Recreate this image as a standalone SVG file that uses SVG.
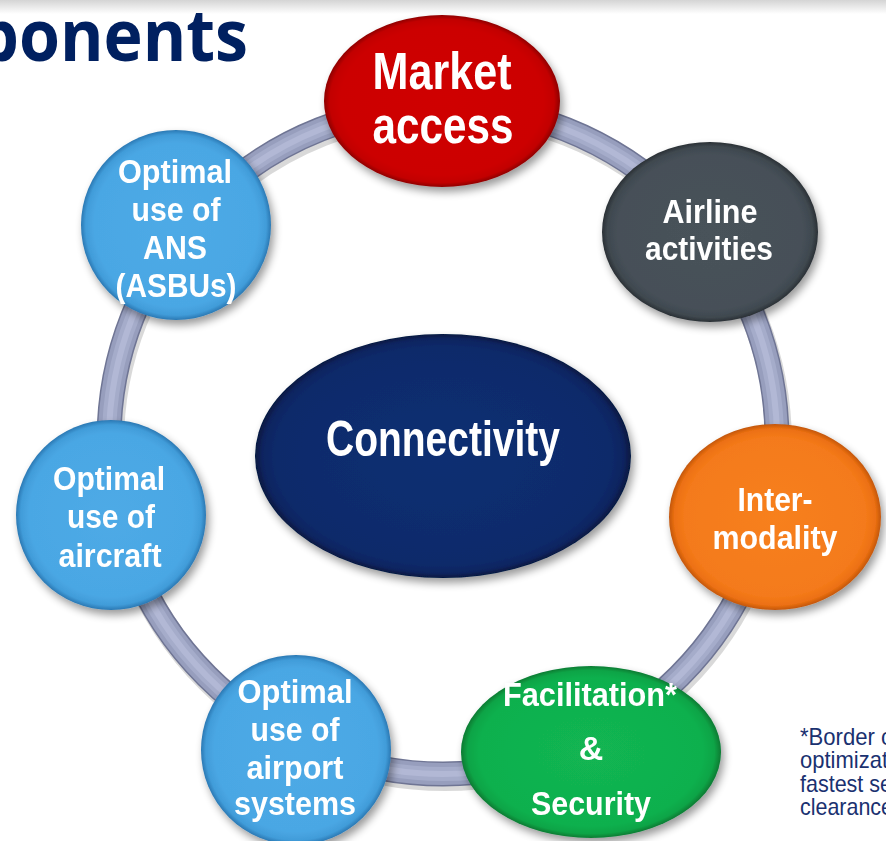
<svg xmlns="http://www.w3.org/2000/svg" width="886" height="841" viewBox="0 0 886 841">
<style>
.lbl{font-family:"Liberation Sans",Arial,sans-serif;font-weight:bold;fill:#fff;text-anchor:middle}
.s36{font-size:34px}
.s52{font-size:52px}
.note{font-family:"Liberation Sans",Arial,sans-serif;font-size:24px;fill:#1a3170}
.title{font-family:"Open Sans","Liberation Sans",sans-serif;font-weight:bold;font-size:72px;fill:#002060}
</style>
<defs>
<linearGradient id="topband" x1="0" y1="0" x2="0" y2="1">
<stop offset="0" stop-color="#d4d4d4"/><stop offset="1" stop-color="#ffffff"/>
</linearGradient>
<filter id="sh" x="-20%" y="-20%" width="150%" height="150%">
<feGaussianBlur in="SourceAlpha" stdDeviation="4"/>
<feOffset dx="3" dy="5" result="b"/>
<feComponentTransfer><feFuncA type="linear" slope="0.4"/></feComponentTransfer>
<feMerge><feMergeNode/><feMergeNode in="SourceGraphic"/></feMerge>
</filter>
<radialGradient id="gRed" cx="0.5" cy="0.5" r="0.5">
<stop offset="0" stop-color="#cf0000"/><stop offset="0.86" stop-color="#cc0000"/><stop offset="0.95" stop-color="#c20000"/><stop offset="1" stop-color="#8e0000"/>
</radialGradient>
<radialGradient id="gGrey" cx="0.5" cy="0.5" r="0.5">
<stop offset="0" stop-color="#48525a"/><stop offset="0.86" stop-color="#465058"/><stop offset="0.95" stop-color="#3f484f"/><stop offset="1" stop-color="#2a3035"/>
</radialGradient>
<radialGradient id="gOrange" cx="0.5" cy="0.5" r="0.5">
<stop offset="0" stop-color="#f7801f"/><stop offset="0.86" stop-color="#f47a1a"/><stop offset="0.95" stop-color="#ec7012"/><stop offset="1" stop-color="#c2560a"/>
</radialGradient>
<radialGradient id="gGreen" cx="0.5" cy="0.5" r="0.5">
<stop offset="0" stop-color="#12b552"/><stop offset="0.86" stop-color="#10b04e"/><stop offset="0.95" stop-color="#0ca446"/><stop offset="1" stop-color="#077a32"/>
</radialGradient>
<radialGradient id="gBlue" cx="0.5" cy="0.5" r="0.5">
<stop offset="0" stop-color="#4eaae6"/><stop offset="0.86" stop-color="#4aa7e4"/><stop offset="0.95" stop-color="#419cd9"/><stop offset="1" stop-color="#2a78b3"/>
</radialGradient>
<radialGradient id="gNavy" cx="0.5" cy="0.5" r="0.5">
<stop offset="0" stop-color="#0f2f72"/><stop offset="0.88" stop-color="#0d2b6b"/><stop offset="0.96" stop-color="#0a2460"/><stop offset="1" stop-color="#061840"/>
</radialGradient>
</defs>
<rect x="0" y="0" width="886" height="841" fill="#ffffff"/>
<rect x="0" y="0" width="886" height="14" fill="url(#topband)"/>
<text class="title" x="-23" y="61" textLength="271" lengthAdjust="spacingAndGlyphs">ponents</text>

<g id="connectors">
<circle cx="443" cy="440" r="334" fill="none" stroke="#000" stroke-opacity="0.15" stroke-width="26" transform="translate(2,4)"/>
<circle cx="443" cy="440" r="334" fill="none" stroke="#6f7594" stroke-width="25"/>
<circle cx="443" cy="440" r="334" fill="none" stroke="#979ebd" stroke-width="22"/>
<circle cx="443" cy="440" r="334" fill="none" stroke="#a5acca" stroke-width="14"/>
<circle cx="443" cy="440" r="334" fill="none" stroke="#b2b8d5" stroke-width="6"/>
</g>

<g id="connectivity" filter="url(#sh)">
<ellipse cx="443" cy="456" rx="188" ry="122" fill="url(#gNavy)"/>
<text class="lbl" x="443" y="456" style="font-size:50px" textLength="234" lengthAdjust="spacingAndGlyphs">Connectivity</text>
</g>

<g id="market-access" filter="url(#sh)">
<ellipse cx="442" cy="101" rx="118" ry="86" fill="url(#gRed)"/>
<text class="lbl s52" x="442" y="89" textLength="139" lengthAdjust="spacingAndGlyphs">Market</text>
<text class="lbl s52" x="443" y="143" textLength="141" lengthAdjust="spacingAndGlyphs">access</text>
</g>

<g id="airline-activities" filter="url(#sh)">
<ellipse cx="710" cy="232" rx="108" ry="90" fill="url(#gGrey)"/>
<text class="lbl s36" x="710" y="223" textLength="95" lengthAdjust="spacingAndGlyphs">Airline</text>
<text class="lbl s36" x="709" y="260" textLength="128" lengthAdjust="spacingAndGlyphs">activities</text>
</g>

<g id="inter-modality" filter="url(#sh)">
<ellipse cx="775" cy="517" rx="106" ry="93" fill="url(#gOrange)"/>
<text class="lbl s36" x="775" y="511" textLength="75" lengthAdjust="spacingAndGlyphs">Inter-</text>
<text class="lbl s36" x="775" y="549" textLength="125" lengthAdjust="spacingAndGlyphs">modality</text>
</g>

<g id="facilitation-security" filter="url(#sh)">
<ellipse cx="591" cy="752" rx="130" ry="86" fill="url(#gGreen)"/>
<text class="lbl s36" x="590" y="706" textLength="174" lengthAdjust="spacingAndGlyphs">Facilitation*</text>
<text class="lbl s36" x="591" y="760">&amp;</text>
<text class="lbl s36" x="591" y="815" textLength="120" lengthAdjust="spacingAndGlyphs">Security</text>
</g>

<g id="airport-systems" filter="url(#sh)">
<ellipse cx="296" cy="750" rx="95" ry="95" fill="url(#gBlue)"/>
<text class="lbl s36" x="295" y="703" textLength="115" lengthAdjust="spacingAndGlyphs">Optimal</text>
<text class="lbl s36" x="295" y="741" textLength="89" lengthAdjust="spacingAndGlyphs">use of</text>
<text class="lbl s36" x="295" y="779" textLength="97" lengthAdjust="spacingAndGlyphs">airport</text>
<text class="lbl s36" x="295" y="815" textLength="122" lengthAdjust="spacingAndGlyphs">systems</text>
</g>

<g id="aircraft" filter="url(#sh)">
<ellipse cx="111" cy="515" rx="95" ry="95" fill="url(#gBlue)"/>
<text class="lbl s36" x="109" y="490" textLength="112" lengthAdjust="spacingAndGlyphs">Optimal</text>
<text class="lbl s36" x="111" y="528" textLength="88" lengthAdjust="spacingAndGlyphs">use of</text>
<text class="lbl s36" x="110" y="567" textLength="103" lengthAdjust="spacingAndGlyphs">aircraft</text>
</g>

<g id="ans-asbus" filter="url(#sh)">
<ellipse cx="176" cy="225" rx="95" ry="95" fill="url(#gBlue)"/>
<text class="lbl s36" x="175" y="183" textLength="114" lengthAdjust="spacingAndGlyphs">Optimal</text>
<text class="lbl s36" x="176" y="221" textLength="89" lengthAdjust="spacingAndGlyphs">use of</text>
<text class="lbl s36" x="175" y="259" textLength="64" lengthAdjust="spacingAndGlyphs">ANS</text>
<text class="lbl s36" x="176" y="297" textLength="121" lengthAdjust="spacingAndGlyphs">(ASBUs)</text>
</g>

<g id="footnote">
<text class="note" x="800" y="745" textLength="92" lengthAdjust="spacingAndGlyphs">*Border c</text>
<text class="note" x="800" y="768" textLength="88" lengthAdjust="spacingAndGlyphs">optimizat</text>
<text class="note" x="800" y="792" textLength="92" lengthAdjust="spacingAndGlyphs">fastest se</text>
<text class="note" x="800" y="815" textLength="93" lengthAdjust="spacingAndGlyphs">clearance</text>
</g>
</svg>
